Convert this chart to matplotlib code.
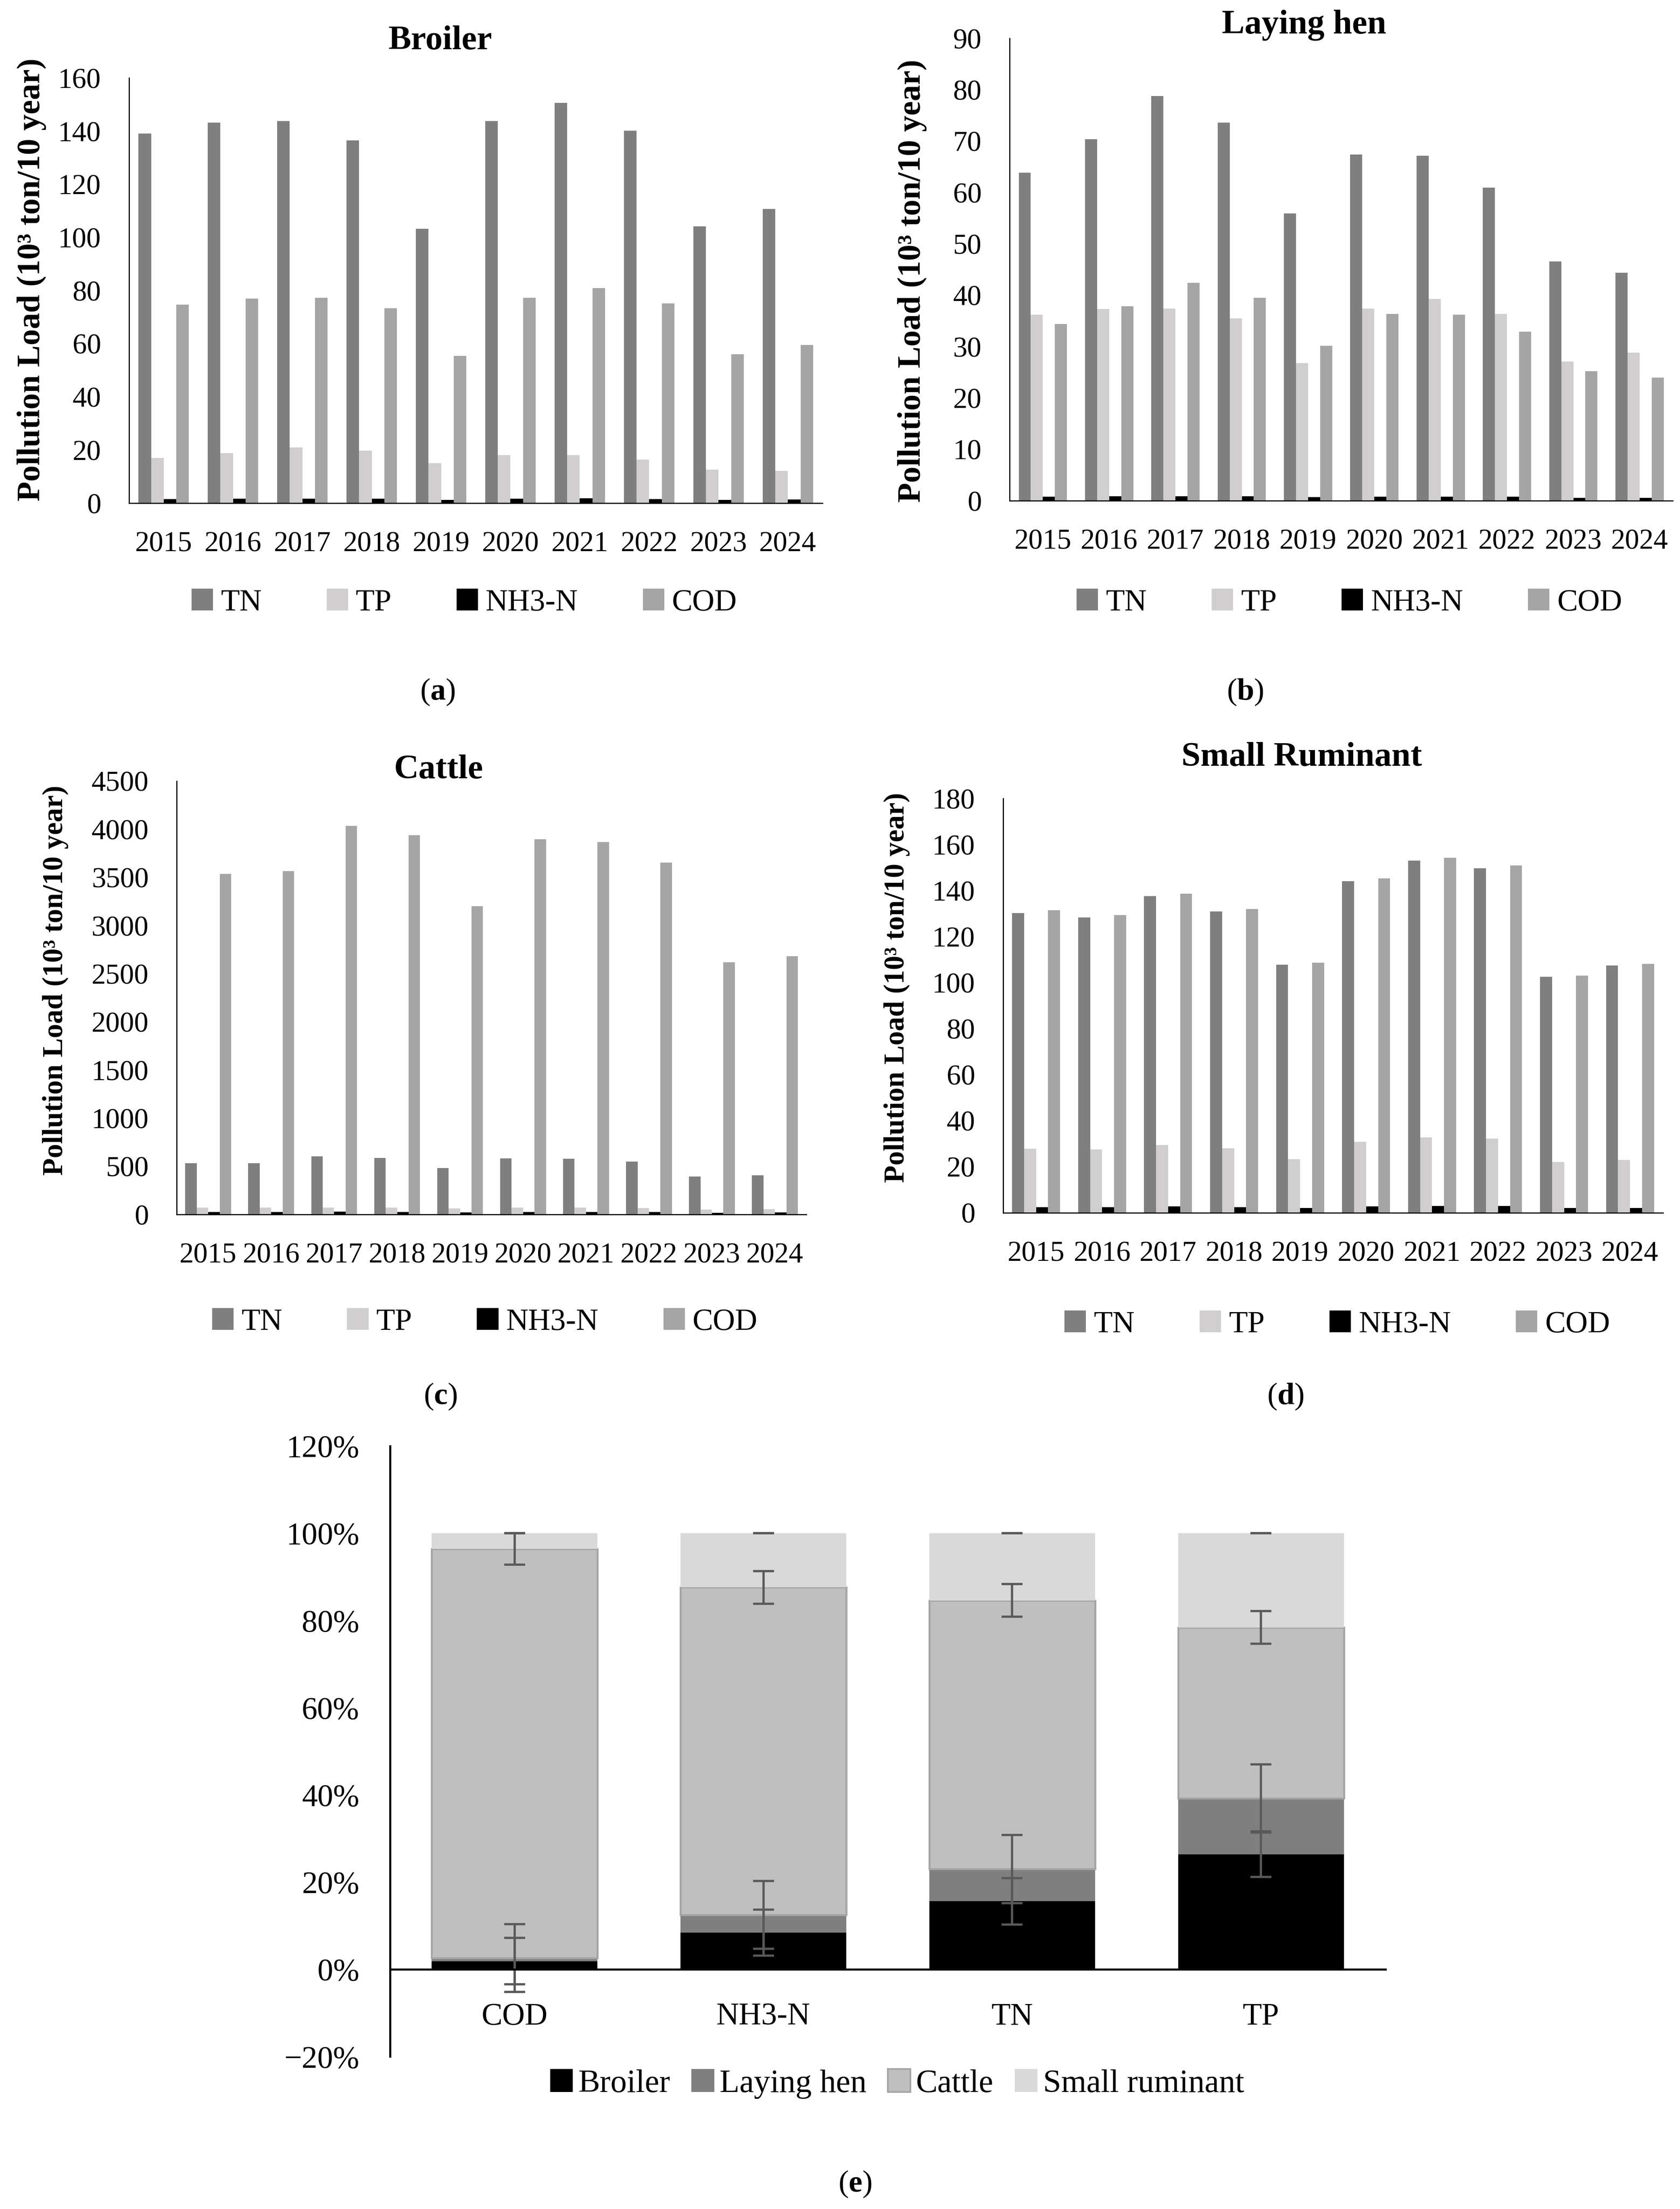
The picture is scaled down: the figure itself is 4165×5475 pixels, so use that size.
import matplotlib
matplotlib.use("Agg")
import matplotlib.pyplot as plt
import numpy as np
from matplotlib.patches import Patch
from matplotlib.ticker import MultipleLocator, PercentFormatter

plt.rcParams["font.family"] = ["Liberation Serif", "DejaVu Serif"]
plt.rcParams["mathtext.fontset"] = "custom"
plt.rcParams["mathtext.rm"] = "Liberation Serif"
plt.rcParams["mathtext.bf"] = "Liberation Serif:bold"

years = ["2015", "2016", "2017", "2018", "2019", "2020", "2021", "2022", "2023", "2024"]
pollutants = ["TN", "TP", "NH3-N", "COD"]
poll_colors = ["#7f7f7f", "#d0cece", "#000000", "#a5a5a5"]

# (a) broiler, 10^3 ton / 10 year
broiler_tn = [139.1, 143.2, 143.8, 136.5, 103.3, 143.8, 150.7, 140.1, 104.1, 110.7]
broiler_tp = [17.1, 18.9, 21.0, 19.7, 15.1, 18.1, 18.1, 16.4, 12.6, 12.2]
broiler_nh3 = [1.6, 1.7, 1.7, 1.7, 1.3, 1.7, 1.8, 1.6, 1.3, 1.4]
broiler_cod = [74.7, 77.0, 77.3, 73.4, 55.5, 77.3, 81.0, 75.2, 56.0, 59.6]

# (b) laying hen
hen_tn = [63.9, 70.4, 78.8, 73.6, 55.9, 67.4, 67.2, 61.0, 46.6, 44.4]
hen_tp = [36.2, 37.3, 37.4, 35.5, 26.8, 37.4, 39.3, 36.4, 27.1, 28.8]
hen_nh3 = [0.8, 0.9, 0.9, 0.9, 0.7, 0.8, 0.8, 0.8, 0.6, 0.6]
hen_cod = [34.4, 37.9, 42.4, 39.5, 30.2, 36.4, 36.2, 32.9, 25.2, 24.0]

# (c) cattle
cattle_tn = [533, 533, 603, 589, 481, 584, 579, 551, 393, 407]
cattle_tp = [70, 70, 72, 70, 62, 72, 72, 68, 52, 54]
cattle_nh3 = [25, 25, 28, 27, 22, 27, 27, 26, 19, 20]
cattle_cod = [3537, 3565, 4033, 3939, 3201, 3897, 3869, 3654, 2617, 2682]

# (d) small ruminant
rum_tn = [130.2, 128.3, 137.6, 131.0, 107.8, 144.1, 153.1, 149.7, 102.5, 107.4]
rum_tp = [27.9, 27.5, 29.5, 28.1, 23.2, 30.8, 32.8, 32.2, 22.1, 23.0]
rum_nh3 = [2.5, 2.4, 2.7, 2.5, 2.1, 2.8, 3.0, 2.9, 2.0, 2.1]
rum_cod = [131.4, 129.4, 138.6, 132.0, 108.6, 145.3, 154.2, 150.9, 103.1, 108.2]

# (e) share of each livestock type (%)
share_cats = ["COD", "NH3-N", "TN", "TP"]
livestock = ["Broiler", "Laying hen", "Cattle", "Small ruminant"]
share_broiler = [1.9, 8.4, 15.6, 26.4]
share_hen = [0.7, 4.1, 7.4, 12.8]
share_cattle = [93.8, 75.1, 61.6, 39.2]
share_rum = [3.6, 12.4, 15.4, 21.6]
err_broiler = [5.3, 5.25, 5.3, 5.25]
err_hen = [7.75, 7.75, 7.8, 7.8]
err_cattle = [3.65, 3.75, 3.75, 3.75]
err_rum = [0.0, 0.0, 0.0, 0.0]

fig = plt.figure(figsize=(41.65, 54.75), dpi=100)

panels = [
    dict(title="Broiler", data=[broiler_tn, broiler_tp, broiler_nh3, broiler_cod],
         rect=[0.0768, 0.7722, 0.4128, 0.1925], ymax=160, step=20,
         title_xy=(0.262, 0.9815), leg_xy=(0.2764, 0.7271), cap_xy=(0.2605, 0.6868),
         cap="a", lab_x=-0.119, lab_y=0.526, lab_fs=58),
    dict(title="Laying hen", data=[hen_tn, hen_tp, hen_nh3, hen_cod],
         rect=[0.601, 0.7733, 0.3947, 0.2093], ymax=90, step=10,
         title_xy=(0.7763, 0.9885), leg_xy=(0.8032, 0.7271), cap_xy=(0.7412, 0.6868),
         cap="b", lab_x=-0.125, lab_y=0.476, lab_fs=58),
    dict(title="Cattle", data=[cattle_tn, cattle_tp, cattle_nh3, cattle_cod],
         rect=[0.1052, 0.4502, 0.3748, 0.1962], ymax=4500, step=500,
         title_xy=(0.2612, 0.6515), leg_xy=(0.2886, 0.4015), cap_xy=(0.262, 0.3678),
         cap="c", lab_x=-0.172, lab_y=0.54, lab_fs=51),
    dict(title="Small Ruminant", data=[rum_tn, rum_tp, rum_nh3, rum_cod],
         rect=[0.5971, 0.451, 0.3928, 0.1875], ymax=180, step=20,
         title_xy=(0.7747, 0.657), leg_xy=(0.796, 0.4004), cap_xy=(0.7652, 0.3678),
         cap="d", lab_x=-0.141, lab_y=0.544, lab_fs=51),
]

x = np.arange(len(years))
w = 0.182
for p in panels:
    ax = fig.add_axes(p["rect"])
    for i, (vals, col) in enumerate(zip(p["data"], poll_colors)):
        ax.bar(x + (i - 1.5) * w, vals, w, color=col, label=pollutants[i])
    ax.set_xlim(-0.5, len(years) - 0.5)
    ax.set_ylim(0, p["ymax"])
    ax.yaxis.set_major_locator(MultipleLocator(p["step"]))
    ax.set_xticks(x)
    ax.set_xticklabels(years)
    ax.tick_params(length=0, labelsize=51, pad=50)
    for s in ["top", "right"]:
        ax.spines[s].set_visible(False)
    for s in ["left", "bottom"]:
        ax.spines[s].set_linewidth(2)
    ax.set_ylabel("Pollution Load (10³ ton/10 year)", fontsize=p["lab_fs"], fontweight="bold")
    ax.yaxis.set_label_coords(p["lab_x"], p["lab_y"])
    fig.text(*p["title_xy"], p["title"], fontsize=61, fontweight="bold", ha="center", va="center")
    fig.legend(*ax.get_legend_handles_labels(), loc="center", bbox_to_anchor=p["leg_xy"],
               ncol=4, frameon=False, fontsize=55, handlelength=0.7, handleheight=0.7,
               handletextpad=0.25, columnspacing=2.1)
    fig.text(*p["cap_xy"], "(" + r"$\mathbf{" + p["cap"] + "}$" + ")", fontsize=55,
             ha="center", va="center")

# (e) stacked shares
ax = fig.add_axes([0.2322, 0.069, 0.5925, 0.2764])
xc = np.arange(len(share_cats))
bw = 0.665
shares = [share_broiler, share_hen, share_cattle, share_rum]
errs = [err_broiler, err_hen, err_cattle, err_rum]
fills = ["#000000", "#7f7f7f", "#bfbfbf", "#d9d9d9"]
edges = ["none", "none", "#a5a5a5", "none"]
bottom = np.zeros(len(share_cats))
handles = []
for vals, fc, ec, name in zip(shares, fills, edges, livestock):
    ax.bar(xc, vals, bw, bottom=bottom, color=fc, edgecolor=ec,
           linewidth=3.5 if ec != "none" else 0, zorder=2)
    bottom = bottom + np.array(vals)
    handles.append(Patch(facecolor=fc, edgecolor=ec, linewidth=3 if ec != "none" else 0, label=name))
bottom = np.zeros(len(share_cats))
for vals, er in zip(shares, errs):
    bottom = bottom + np.array(vals)
    ax.errorbar(xc, bottom, yerr=er, fmt="none", ecolor="#595959", elinewidth=4,
                capsize=19, capthick=4, zorder=3)
ax.set_xlim(-0.5, len(share_cats) - 0.5)
ax.set_ylim(-20, 120)
ax.yaxis.set_major_locator(MultipleLocator(20))
ax.yaxis.set_major_formatter(PercentFormatter(decimals=0))
ax.set_xticks(xc)
ax.set_xticklabels(share_cats)
ax.tick_params(axis="y", length=0, labelsize=56, pad=55)
ax.tick_params(axis="x", length=0, labelsize=56, pad=59)
ax.spines["top"].set_visible(False)
ax.spines["right"].set_visible(False)
ax.spines["bottom"].set_position(("data", 0))
ax.spines["bottom"].set_linewidth(3.6)
ax.spines["left"].set_linewidth(3.6)
ax.spines["bottom"].set_zorder(4)
fig.legend(handles=handles, loc="center", bbox_to_anchor=(0.534, 0.0566), ncol=4,
           frameon=False, fontsize=58, handlelength=0.7, handleheight=0.7,
           handletextpad=0.17, columnspacing=0.65)
fig.text(0.509, 0.0113, "(" + r"$\mathbf{e}$" + ")", fontsize=55, ha="center", va="center")

fig.savefig("out.png", dpi=100)
